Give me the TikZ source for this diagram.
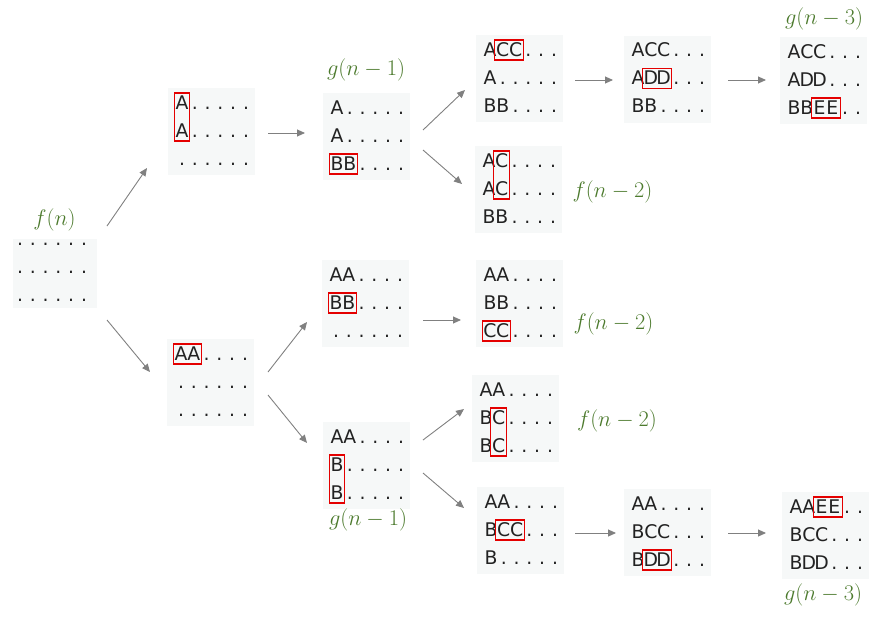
\documentclass[tikz,border=0pt]{standalone}
\usepackage{graphicx}
\usepackage{fontspec}
\newfontfamily\monof{DejaVu Sans}
\usetikzlibrary{arrows.meta}
\definecolor{bgc}{RGB}{246,248,248}
\definecolor{lblc}{RGB}{76,122,45}
\definecolor{arrc}{RGB}{128,128,128}
\definecolor{txtc}{RGB}{34,34,34}
\definecolor{hlc}{RGB}{228,0,0}
\newdimen\cw \cw=12.8pt
\makeatletter
\def\spread#1{\spr@i#1\relax}
\def\spr@i#1{\ifx\relax#1\else\makebox[\cw][c]{#1}\expandafter\spr@i\fi}
\makeatother
\newcommand\lbm[1]{\scalebox{1.08}{$#1$}}
\tikzset{
  rowtxt/.style={anchor=base west, inner sep=0pt, outer sep=0pt, text=txtc,
    font=\monof\fontsize{18.8}{20}\selectfont},
  bgbox/.style={fill=bgc, draw=none, inner sep=0pt, minimum width=87pt, minimum height=87pt},
  hlbox/.style={draw=hlc, line width=1.1pt},
  lbl/.style={text=lblc, inner sep=0pt, font=\fontsize{20.74}{24}\selectfont},
  arr/.style={draw=arrc, line width=0.9pt, -{Triangle[length=8pt,width=7pt]}}
}
% name, cx0, b1, rows
\newcommand\mybox[6]{%
  \node[bgbox] (#1) at ({#2+29.5},{#3+22.5}) {};
  \node[rowtxt] (#1r1) at ({#2-6.4},#3) {\spread{#4}};
  \node[rowtxt] (#1r2) at ({#2-6.4},{#3+28}) {\spread{#5}};
  \node[rowtxt] (#1r3) at ({#2-6.4},{#3+56}) {\spread{#6}};
}
% cx0, b1, c1, c2, r1, r2
\newcommand\hl[6]{%
  \draw[hlbox] ({#1+#3*12.8-7.9},{#2+#5*28-16}) rectangle ({#1+#4*12.8+7.9},{#2+#6*28+4});
}
\begin{document}
\begin{tikzpicture}[x=1pt,y=-1pt]
\useasboundingbox (0,0) rectangle (888,619);
% box 1
\node[bgbox, minimum width=84pt, minimum height=69pt] (bA) at (54.7,273.5) {};
\node[rowtxt] (bAr1) at (13.6,245) {\spread{......}};
\node[rowtxt] (bAr2) at (13.6,273) {\spread{......}};
\node[rowtxt] (bAr3) at (13.6,301) {\spread{......}};

\mybox{bB}{182}{109}{A.....}{A.....}{......}
\hl{182}{109}{0}{0}{0}{1}
\mybox{bC}{337}{114}{A.....}{A.....}{BB....}
\hl{337}{114}{0}{1}{2}{2}
\mybox{bD}{490}{56}{ACC...}{A.....}{BB....}
\hl{490}{56}{1}{2}{0}{0}
\mybox{bE}{638}{56.5}{ACC...}{ADD...}{BB....}
\hl{638}{56.5}{1}{2}{1}{1}
\mybox{bF}{794}{58}{ACC...}{ADD...}{BBEE..}
\hl{794}{58}{2}{3}{2}{2}
\mybox{bG}{489}{167}{AC....}{AC....}{BB....}
\hl{489}{167}{1}{1}{0}{1}
\mybox{bH}{181}{360}{AA....}{......}{......}
\hl{181}{360}{0}{1}{0}{0}
\mybox{bI}{336}{281}{AA....}{BB....}{......}
\hl{336}{281}{0}{1}{1}{1}
\mybox{bJ}{490}{281}{AA....}{BB....}{CC....}
\hl{490}{281}{0}{1}{2}{2}
\mybox{bK}{486}{396}{AA....}{BC....}{BC....}
\hl{486}{396}{1}{1}{1}{2}
\mybox{bL}{337}{443}{AA....}{B.....}{B.....}
\hl{337}{443}{0}{0}{1}{2}
\mybox{bM}{491}{508}{AA....}{BCC...}{B.....}
\hl{491}{508}{1}{2}{1}{1}
\mybox{bN}{638}{510}{AA....}{BCC...}{BDD...}
\hl{638}{510}{1}{2}{2}{2}
\mybox{bO}{796}{513}{AAEE..}{BCC...}{BDD...}
\hl{796}{513}{2}{3}{0}{0}

% labels
\node[lbl] (lA) at (54.5,220) {\lbm{f(n)}};
\node[lbl] (lC) at (366,70) {\lbm{g(n-1)}};
\node[lbl] (lF) at (824,19) {\lbm{g(n-3)}};
\node[lbl] (lG) at (612.5,192) {\lbm{f(n-2)}};
\node[lbl] (lJ) at (613.5,323.5) {\lbm{f(n-2)}};
\node[lbl] (lK) at (617,421) {\lbm{f(n-2)}};
\node[lbl] (lL) at (368,520) {\lbm{g(n-1)}};
\node[lbl] (lO) at (823,595) {\lbm{g(n-3)}};

% arrow end points
\coordinate (a1s) at (107,226);  \coordinate (a1e) at (147,168);
\coordinate (a2s) at (107,320);  \coordinate (a2e) at (150,372);
\coordinate (a3s) at (268,133);  \coordinate (a3e) at (305,133);
\coordinate (a4s) at (423,130);  \coordinate (a4e) at (465,90);
\coordinate (a5s) at (423,150);  \coordinate (a5e) at (462,184);
\coordinate (a6s) at (575,80);   \coordinate (a6e) at (613,80);
\coordinate (a7s) at (728,80);   \coordinate (a7e) at (766,80);
\coordinate (a8s) at (268,372);  \coordinate (a8e) at (307,322);
\coordinate (a9s) at (268,395);  \coordinate (a9e) at (307,443);
\coordinate (a10s) at (423,320); \coordinate (a10e) at (461,320);
\coordinate (a11s) at (423,440); \coordinate (a11e) at (464,409);
\coordinate (a12s) at (423,473); \coordinate (a12e) at (464,508);
\coordinate (a13s) at (575,533); \coordinate (a13e) at (616,533);
\coordinate (a14s) at (728,533); \coordinate (a14e) at (766,533);
\foreach \i in {1,...,14} { \draw[arr] (a\i s) -- (a\i e); }
\end{tikzpicture}
\end{document}
